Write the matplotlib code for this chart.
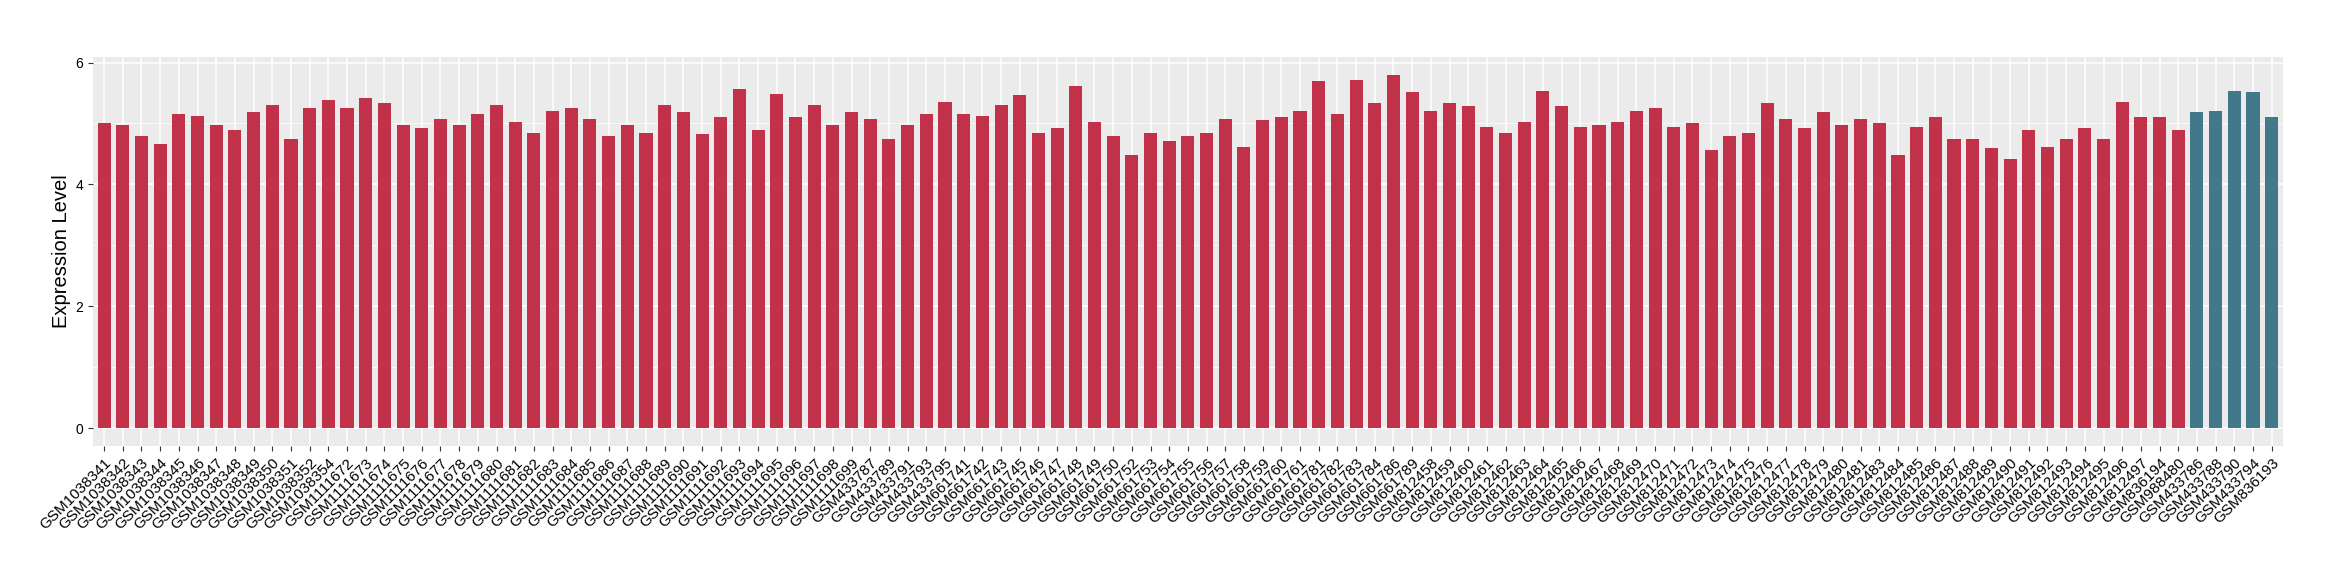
import matplotlib
matplotlib.use('Agg')
import matplotlib.pyplot as plt
import numpy as np

plt.rcParams['font.family'] = ['Liberation Sans', 'DejaVu Sans']

# 第一组样本（红色）
group1_samples = [
    'GSM1038341', 'GSM1038342', 'GSM1038343', 'GSM1038344', 'GSM1038345', 'GSM1038346',
    'GSM1038347', 'GSM1038348', 'GSM1038349', 'GSM1038350', 'GSM1038351', 'GSM1038352',
    'GSM1038354',
    'GSM1111672', 'GSM1111673', 'GSM1111674', 'GSM1111675', 'GSM1111676', 'GSM1111677',
    'GSM1111678', 'GSM1111679', 'GSM1111680', 'GSM1111681', 'GSM1111682', 'GSM1111683',
    'GSM1111684', 'GSM1111685', 'GSM1111686', 'GSM1111687', 'GSM1111688', 'GSM1111689',
    'GSM1111690', 'GSM1111691', 'GSM1111692', 'GSM1111693', 'GSM1111694', 'GSM1111695',
    'GSM1111696', 'GSM1111697', 'GSM1111698', 'GSM1111699',
    'GSM433787', 'GSM433789', 'GSM433791', 'GSM433793', 'GSM433795',
    'GSM661741', 'GSM661742', 'GSM661743', 'GSM661745', 'GSM661746', 'GSM661747',
    'GSM661748', 'GSM661749', 'GSM661750', 'GSM661752', 'GSM661753', 'GSM661754',
    'GSM661755', 'GSM661756', 'GSM661757', 'GSM661758', 'GSM661759', 'GSM661760',
    'GSM661761', 'GSM661781', 'GSM661782', 'GSM661783', 'GSM661784', 'GSM661786',
    'GSM661789',
    'GSM812458', 'GSM812459', 'GSM812460', 'GSM812461', 'GSM812462', 'GSM812463',
    'GSM812464', 'GSM812465', 'GSM812466', 'GSM812467', 'GSM812468', 'GSM812469',
    'GSM812470', 'GSM812471', 'GSM812472', 'GSM812473', 'GSM812474', 'GSM812475',
    'GSM812476', 'GSM812477', 'GSM812478', 'GSM812479', 'GSM812480', 'GSM812481',
    'GSM812483', 'GSM812484', 'GSM812485', 'GSM812486', 'GSM812487', 'GSM812488',
    'GSM812489', 'GSM812490', 'GSM812491', 'GSM812492', 'GSM812493', 'GSM812494',
    'GSM812495', 'GSM812496', 'GSM812497',
    'GSM836194', 'GSM988480',
]
group1_values = [
    5.00, 4.98, 4.79, 4.66, 5.16, 5.13, 4.97, 4.90, 5.18, 5.31, 4.74, 5.26, 5.38,
    5.26, 5.41, 5.34, 4.98, 4.93, 5.08, 4.97, 5.16, 5.30, 5.03, 4.85, 5.21, 5.26,
    5.07, 4.80, 4.98, 4.84, 5.31, 5.18, 4.82, 5.11, 5.56, 4.90, 5.48, 5.10, 5.30,
    4.98, 5.18,
    5.08, 4.75, 4.98, 5.16, 5.36,
    5.15, 5.13, 5.31, 5.46, 4.84, 4.93, 5.61, 5.02, 4.80, 4.49, 4.84, 4.72, 4.80,
    4.85, 5.07, 4.62, 5.05, 5.10, 5.20, 5.69, 5.16, 5.72, 5.34, 5.80, 5.51,
    5.20, 5.33, 5.28, 4.95, 4.84, 5.02, 5.54, 5.28, 4.95, 4.97, 5.02, 5.20, 5.25,
    4.95, 5.00, 4.56, 4.80, 4.84, 5.33, 5.08, 4.92, 5.18, 4.97, 5.07, 5.00, 4.49,
    4.95, 5.10, 4.75, 4.75, 4.59, 4.41, 4.89, 4.62, 4.74, 4.92, 4.75, 5.36, 5.10,
    5.10, 4.89,
]

# 第二组样本（蓝色）
group2_samples = ['GSM433786', 'GSM433788', 'GSM433790', 'GSM433794', 'GSM836193']
group2_values = [5.18, 5.21, 5.54, 5.51, 5.11]

samples = group1_samples + group2_samples
values = group1_values + group2_values
colors = ['#C1314A'] * len(group1_samples) + ['#41788A'] * len(group2_samples)

fig = plt.figure(figsize=(23.4, 5.8), dpi=100)
ax = fig.add_axes([0.0397, 0.231, 0.9359, 0.6707])
ax.set_facecolor('#EBEBEB')

x = np.arange(len(samples))
ax.bar(x, values, width=0.7, color=colors, zorder=3)

ax.set_xlim(-0.6, len(samples) - 0.4)
ax.set_ylim(-0.29, 6.09)
ax.set_yticks([0, 2, 4, 6])
ax.set_yticks([1, 3, 5], minor=True)
ax.set_xticks(x)
ax.set_xticklabels(samples, rotation=45, ha='right', va='top',
                   rotation_mode='anchor', fontsize=11, color='black')

# 网格线（ggplot风格）
ax.grid(which='major', color='white', linewidth=1.1)
ax.grid(which='minor', axis='y', color='white', linewidth=0.55)
ax.set_axisbelow(True)
for s in ax.spines.values():
    s.set_visible(False)
ax.tick_params(axis='both', which='major', length=3.5, width=0.8,
               color='#333333', labelcolor='black')
ax.tick_params(axis='y', labelsize=10)
ax.tick_params(which='minor', length=0)

ax.set_ylabel('Expression Level', fontsize=14.5, labelpad=3)

fig.savefig('out.png', dpi=100)
